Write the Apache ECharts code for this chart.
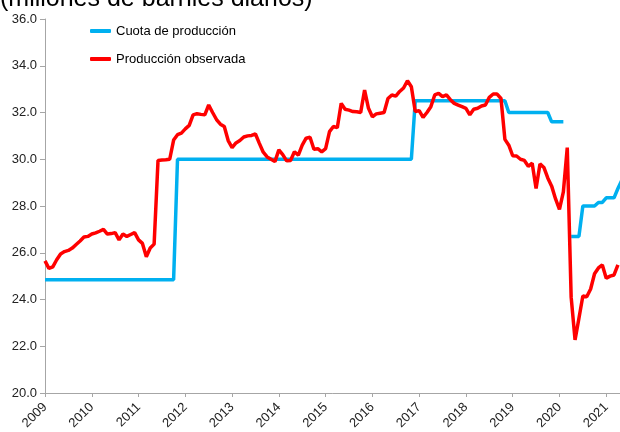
<!DOCTYPE html>
<html>
<head>
<meta charset="utf-8">
<script src="https://cdn.jsdelivr.net/npm/echarts/dist/echarts.min.js"></script>
<style>
  html, body { margin: 0; padding: 0; background: #fff; }
  #chart { width: 620px; height: 432px; }
</style>
</head>
<body>
<div id="chart"></div>
<script>
// eje x: meses desde enero de 2009 (índice 0)
const yearLabels = ['2009', '2010', '2011', '2012', '2013', '2014', '2015',
  '2016', '2017', '2018', '2019', '2020', '2021']

const seriesNames = ['Cuota de producción', 'Producción observada']

// cuota OPEP, una fila por año
const quota = [
  24.85, 24.85, 24.85, 24.85, 24.85, 24.85, 24.85, 24.85, 24.85, 24.85, 24.85, 24.85,
  24.85, 24.85, 24.85, 24.85, 24.85, 24.85, 24.85, 24.85, 24.85, 24.85, 24.85, 24.85,
  24.85, 24.85, 24.85, 24.85, 24.85, 24.85, 24.85, 24.85, 24.85, 24.85, 30.0, 30.0,
  30.0, 30.0, 30.0, 30.0, 30.0, 30.0, 30.0, 30.0, 30.0, 30.0, 30.0, 30.0,
  30.0, 30.0, 30.0, 30.0, 30.0, 30.0, 30.0, 30.0, 30.0, 30.0, 30.0, 30.0,
  30.0, 30.0, 30.0, 30.0, 30.0, 30.0, 30.0, 30.0, 30.0, 30.0, 30.0, 30.0,
  30.0, 30.0, 30.0, 30.0, 30.0, 30.0, 30.0, 30.0, 30.0, 30.0, 30.0, 30.0,
  30.0, 30.0, 30.0, 30.0, 30.0, 30.0, 30.0, 30.0, 30.0, 30.0, 30.0, 32.5,
  32.5, 32.5, 32.5, 32.5, 32.5, 32.5, 32.5, 32.5, 32.5, 32.5, 32.5, 32.5,
  32.5, 32.5, 32.5, 32.5, 32.5, 32.5, 32.5, 32.5, 32.5, 32.5, 32.5, 32.0,
  32.0, 32.0, 32.0, 32.0, 32.0, 32.0, 32.0, 32.0, 32.0, 32.0, 31.6, 31.6,
  31.6, 31.6, null, 26.7, 26.7, 26.7, 28.0, 28.0, 28.0, 28.0, 28.15, 28.15,
  28.35, 28.35, 28.35, 28.75, 29.1,
]

// producción observada, una fila por año
const observed = [
  25.65, 25.33, 25.4, 25.7, 25.95, 26.05, 26.1, 26.2, 26.35, 26.5, 26.67, 26.7,
  26.8, 26.85, 26.92, 27.0, 26.8, 26.82, 26.86, 26.55, 26.8, 26.7, 26.78, 26.86,
  26.55, 26.4, 25.83, 26.2, 26.37, 29.95, 29.97, 29.98, 30.0, 30.82, 31.05, 31.12,
  31.3, 31.45, 31.9, 31.95, 31.92, 31.9, 32.32, 32.0, 31.7, 31.5, 31.4, 30.8,
  30.5, 30.7, 30.8, 30.95, 31.0, 31.02, 31.08, 30.68, 30.3, 30.1, 30.0, 29.9,
  30.4, 30.2, 29.93, 29.95, 30.32, 30.18, 30.6, 30.9, 30.94, 30.43, 30.45, 30.32,
  30.45, 31.18, 31.4, 31.35, 32.39, 32.14, 32.1, 32.04, 32.03, 32.0, 32.96, 32.18,
  31.82, 31.94, 31.97, 32.0, 32.6, 32.75, 32.7, 32.9, 33.05, 33.36, 33.1, 32.04,
  32.08, 31.79, 32.0, 32.25, 32.75, 32.82, 32.68, 32.75, 32.55, 32.39, 32.32, 32.25,
  32.18, 31.9, 32.14, 32.18, 32.28, 32.32, 32.65, 32.79, 32.79, 32.6, 30.85, 30.6,
  30.15, 30.14, 30.0, 29.95, 29.7, 29.83, 28.75, 29.8, 29.65, 29.2, 28.85, 28.3,
  27.86, 28.6, 30.5, 24.1, 22.27, 23.2, 24.15, 24.12, 24.45, 25.1, 25.35, 25.48,
  24.91, 25.0, 25.05, 25.48,
]

const font = "'Liberation Sans', Arial, sans-serif"
const toPairs = (arr) => arr.map((v, i) => [i, v])

const chart = echarts.init(document.getElementById('chart'), null, { renderer: 'canvas' })

chart.setOption({
  animation: false,
  title: {
    text: '(millones de barriles diarios)',
    left: 0,
    top: -13,
    padding: 0,
    textStyle: {
      fontFamily: font,
      fontSize: 25,
      fontWeight: 'normal',
      color: '#000',
      lineHeight: 25,
    },
  },
  legend: {
    orient: 'vertical',
    left: 90,
    top: 24,
    padding: 0,
    itemWidth: 21,
    itemHeight: 4,
    itemGap: 14,
    icon: 'roundRect',
    data: seriesNames,
    textStyle: {
      fontFamily: font,
      fontSize: 13,
      color: '#000',
      lineHeight: 14,
    },
  },
  // el área de trazado sigue más allá del borde derecho (imagen recortada)
  grid: {
    left: 45,
    top: 19,
    bottom: 39,
    width: 608,
    containLabel: false,
    outerBoundsMode: 'none',
  },
  xAxis: {
    type: 'value',
    min: 0,
    max: 156,
    interval: 12,
    splitLine: { show: false },
    axisLine: { lineStyle: { color: '#a6a6a6', width: 1 } },
    axisTick: { show: true, length: 4, lineStyle: { color: '#a6a6a6' } },
    axisLabel: {
      rotate: 45,
      margin: 12,
      fontFamily: font,
      fontSize: 13,
      color: '#222',
      formatter: (v) => yearLabels[v / 12] || '',
    },
  },
  yAxis: {
    type: 'value',
    min: 20,
    max: 36,
    interval: 2,
    splitLine: { show: false },
    axisLine: { show: true, lineStyle: { color: '#a6a6a6', width: 1 } },
    axisTick: { show: true, length: 5, lineStyle: { color: '#a6a6a6' } },
    axisLabel: {
      margin: 8,
      fontFamily: font,
      fontSize: 13,
      color: '#222',
      formatter: (v) => v.toFixed(1),
    },
  },
  series: [
    {
      name: seriesNames[0],
      type: 'line',
      data: toPairs(quota),
      color: '#00b0f0',
      symbol: 'none',
      connectNulls: false,
      lineStyle: { width: 3.5 },
    },
    {
      name: seriesNames[1],
      type: 'line',
      data: toPairs(observed),
      color: '#ff0000',
      symbol: 'none',
      lineStyle: { width: 3.5 },
    },
  ],
})
</script>
</body>
</html>
